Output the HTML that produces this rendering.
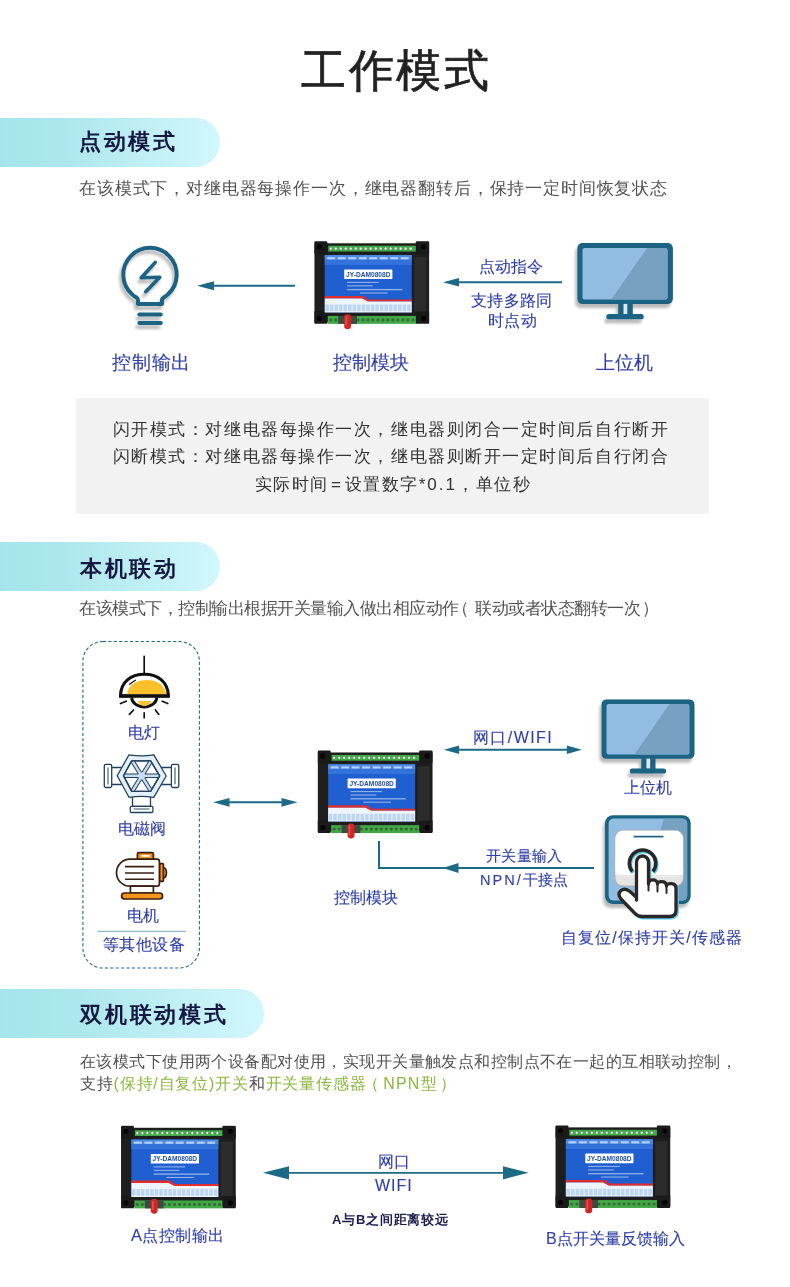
<!DOCTYPE html>
<html><head><meta charset="utf-8">
<style>
html,body{margin:0;padding:0;background:#fff;}
body{width:790px;height:1287px;position:relative;overflow:hidden;font-family:"Liberation Sans",sans-serif;}
.t{position:absolute;white-space:nowrap;line-height:1;will-change:transform;}
.pill{position:absolute;left:0;height:49px;border-radius:0 25px 25px 0;background:linear-gradient(90deg,#a4e5eb 0%,#afe8ee 35%,#d1f7fc 100%);}
.h2{font-size:24px;font-weight:700;color:#17183f;}
.para{font-size:16px;color:#525252;}
.lbl{color:#303ea8;-webkit-text-stroke:.12px #303ea8;}
.gray{position:absolute;background:#f2f2f2;}
svg{position:absolute;overflow:visible;}
</style></head><body>

<svg width="0" height="0" style="position:absolute">
<defs>
<symbol id="dev" viewBox="0 0 117 90">
  <rect x="1" y="2.5" width="116" height="80" fill="#1e1e1e"/>
  <rect x="1" y="0.5" width="13" height="13" rx="1" fill="#1a1a1a"/>
  <rect x="103.5" y="0.5" width="13.5" height="13" rx="1" fill="#1a1a1a"/>
  <rect x="1" y="71" width="13" height="13" rx="1" fill="#1a1a1a"/>
  <rect x="103.5" y="71" width="13.5" height="13" rx="1" fill="#1a1a1a"/>
  <circle cx="6" cy="6" r="2.6" fill="#050505"/>
  <circle cx="111.5" cy="6" r="2.6" fill="#050505"/>
  <circle cx="6" cy="78.5" r="2.6" fill="#050505"/>
  <circle cx="111.5" cy="78.5" r="2.6" fill="#050505"/>
  <rect x="15" y="5" width="88.5" height="5.8" fill="#45ad4b"/>
  <circle cx="17.50" cy="7.9" r="1.55" fill="#e8f3e8" stroke="#2f7d33" stroke-width=".5"/><circle cx="22.55" cy="7.9" r="1.55" fill="#e8f3e8" stroke="#2f7d33" stroke-width=".5"/><circle cx="27.60" cy="7.9" r="1.55" fill="#e8f3e8" stroke="#2f7d33" stroke-width=".5"/><circle cx="32.65" cy="7.9" r="1.55" fill="#e8f3e8" stroke="#2f7d33" stroke-width=".5"/><circle cx="37.70" cy="7.9" r="1.55" fill="#e8f3e8" stroke="#2f7d33" stroke-width=".5"/><circle cx="42.75" cy="7.9" r="1.55" fill="#e8f3e8" stroke="#2f7d33" stroke-width=".5"/><circle cx="47.80" cy="7.9" r="1.55" fill="#e8f3e8" stroke="#2f7d33" stroke-width=".5"/><circle cx="52.85" cy="7.9" r="1.55" fill="#e8f3e8" stroke="#2f7d33" stroke-width=".5"/><circle cx="57.90" cy="7.9" r="1.55" fill="#e8f3e8" stroke="#2f7d33" stroke-width=".5"/><circle cx="62.95" cy="7.9" r="1.55" fill="#e8f3e8" stroke="#2f7d33" stroke-width=".5"/><circle cx="68.00" cy="7.9" r="1.55" fill="#e8f3e8" stroke="#2f7d33" stroke-width=".5"/><circle cx="73.05" cy="7.9" r="1.55" fill="#e8f3e8" stroke="#2f7d33" stroke-width=".5"/><circle cx="78.10" cy="7.9" r="1.55" fill="#e8f3e8" stroke="#2f7d33" stroke-width=".5"/><circle cx="83.15" cy="7.9" r="1.55" fill="#e8f3e8" stroke="#2f7d33" stroke-width=".5"/><circle cx="88.20" cy="7.9" r="1.55" fill="#e8f3e8" stroke="#2f7d33" stroke-width=".5"/><circle cx="93.25" cy="7.9" r="1.55" fill="#e8f3e8" stroke="#2f7d33" stroke-width=".5"/><circle cx="98.30" cy="7.9" r="1.55" fill="#e8f3e8" stroke="#2f7d33" stroke-width=".5"/>
  <rect x="101.8" y="16.5" width="12.2" height="55" fill="#2c2c2c"/>
  <rect x="11.4" y="14.4" width="88" height="58" fill="#1f5fd0"/>
  <rect x="11.4" y="14.4" width="88" height="5" fill="#4b8ae2"/>
  <rect x="11.4" y="19.4" width="88" height="5" fill="#3372da"/>
  <rect x="14.00" y="16.5" width="8" height="2.2" fill="#cfe0fa" opacity=".8"/><rect x="24.60" y="16.5" width="8" height="2.2" fill="#cfe0fa" opacity=".8"/><rect x="35.20" y="16.5" width="8" height="2.2" fill="#cfe0fa" opacity=".8"/><rect x="45.80" y="16.5" width="8" height="2.2" fill="#cfe0fa" opacity=".8"/><rect x="56.40" y="16.5" width="8" height="2.2" fill="#cfe0fa" opacity=".8"/><rect x="67.00" y="16.5" width="8" height="2.2" fill="#cfe0fa" opacity=".8"/><rect x="77.60" y="16.5" width="8" height="2.2" fill="#cfe0fa" opacity=".8"/><rect x="88.20" y="16.5" width="8" height="2.2" fill="#cfe0fa" opacity=".8"/>
  <rect x="31.1" y="28.9" width="48.7" height="9.8" rx=".6" fill="#fff"/>
  <text x="55.4" y="36.6" font-size="8.2" font-weight="700" fill="#1f4fb0" text-anchor="middle" font-family="Liberation Sans" textLength="45" lengthAdjust="spacingAndGlyphs">JY-DAM0808D</text>
  <rect x="34" y="41.5" width="32" height="1.1" fill="#b8d0f5" opacity=".75"/>
  <rect x="34" y="45" width="26" height="1.1" fill="#b8d0f5" opacity=".75"/>
  <rect x="34" y="48.7" width="56" height="1.3" fill="#b8d0f5" opacity=".75"/>
  <rect x="47" y="52.2" width="28" height="1.1" fill="#b8d0f5" opacity=".75"/>
  <polygon points="11.4,55.8 50,55.8 56,59.3 99.4,59.3 99.4,61.5 55,61.5 49,58.3 11.4,58.3" fill="#e12d2d"/>
  <polygon points="11.4,58.3 49,58.3 55,61.5 99.4,61.5 99.4,72.4 11.4,72.4" fill="#eef4fc"/>
  <rect x="12.00" y="64.5" width="3.6" height="6.8" rx=".8" fill="#bcd6f3"/><rect x="16.60" y="64.5" width="3.6" height="6.8" rx=".8" fill="#bcd6f3"/><rect x="21.20" y="64.5" width="3.6" height="6.8" rx=".8" fill="#bcd6f3"/><rect x="25.80" y="64.5" width="3.6" height="6.8" rx=".8" fill="#bcd6f3"/><rect x="30.40" y="64.5" width="3.6" height="6.8" rx=".8" fill="#bcd6f3"/><rect x="35.00" y="64.5" width="3.6" height="6.8" rx=".8" fill="#bcd6f3"/><rect x="39.60" y="64.5" width="3.6" height="6.8" rx=".8" fill="#bcd6f3"/><rect x="44.20" y="64.5" width="3.6" height="6.8" rx=".8" fill="#bcd6f3"/><rect x="48.80" y="64.5" width="3.6" height="6.8" rx=".8" fill="#bcd6f3"/><rect x="53.40" y="64.5" width="3.6" height="6.8" rx=".8" fill="#bcd6f3"/><rect x="58.00" y="64.5" width="3.6" height="6.8" rx=".8" fill="#bcd6f3"/><rect x="62.60" y="64.5" width="3.6" height="6.8" rx=".8" fill="#bcd6f3"/><rect x="67.20" y="64.5" width="3.6" height="6.8" rx=".8" fill="#bcd6f3"/><rect x="71.80" y="64.5" width="3.6" height="6.8" rx=".8" fill="#bcd6f3"/><rect x="76.40" y="64.5" width="3.6" height="6.8" rx=".8" fill="#bcd6f3"/><rect x="81.00" y="64.5" width="3.6" height="6.8" rx=".8" fill="#bcd6f3"/><rect x="85.60" y="64.5" width="3.6" height="6.8" rx=".8" fill="#bcd6f3"/><rect x="90.20" y="64.5" width="3.6" height="6.8" rx=".8" fill="#bcd6f3"/><rect x="94.80" y="64.5" width="3.6" height="6.8" rx=".8" fill="#bcd6f3"/>
  <rect x="14.5" y="76" width="89" height="8" fill="#43a947"/>
  <rect x="25" y="76" width="19" height="8" fill="#3d4a3f"/>
  <circle cx="45.00" cy="80" r="1.6" fill="#2d5a2f" opacity=".75"/><circle cx="50.05" cy="80" r="1.6" fill="#2d5a2f" opacity=".75"/><circle cx="55.10" cy="80" r="1.6" fill="#2d5a2f" opacity=".75"/><circle cx="60.15" cy="80" r="1.6" fill="#2d5a2f" opacity=".75"/><circle cx="65.20" cy="80" r="1.6" fill="#2d5a2f" opacity=".75"/><circle cx="70.25" cy="80" r="1.6" fill="#2d5a2f" opacity=".75"/><circle cx="75.30" cy="80" r="1.6" fill="#2d5a2f" opacity=".75"/><circle cx="80.35" cy="80" r="1.6" fill="#2d5a2f" opacity=".75"/><circle cx="85.40" cy="80" r="1.6" fill="#2d5a2f" opacity=".75"/><circle cx="90.45" cy="80" r="1.6" fill="#2d5a2f" opacity=".75"/><circle cx="95.50" cy="80" r="1.6" fill="#2d5a2f" opacity=".75"/><circle cx="100.55" cy="80" r="1.6" fill="#2d5a2f" opacity=".75"/><circle cx="17.50" cy="80" r="1.6" fill="#2d5a2f" opacity=".75"/><circle cx="22.55" cy="80" r="1.6" fill="#2d5a2f" opacity=".75"/>
  <rect x="31.1" y="74.4" width="6.9" height="15" rx="3.2" fill="#d42525"/>
  <rect x="32.3" y="76" width="1.6" height="10" rx=".8" fill="#f06060" opacity=".7"/>
</symbol>
<symbol id="mon" viewBox="0 0 96 77">
  <rect x="0" y="0" width="95.7" height="61.2" rx="5.5" fill="#1b6282"/>
  <rect x="5.3" y="5" width="85" height="51.7" rx="2" fill="#90bde1"/>
  <polygon points="69.8,5 88.3,5 90.3,7 90.3,54.7 88.3,56.7 34.1,56.7" fill="#77a1c3"/>
  <rect x="41" y="60" width="14.6" height="12" fill="#1b6282"/>
  <rect x="46.3" y="61" width="3.8" height="10.5" fill="#dfe7ed"/>
  <rect x="29.1" y="71.1" width="37.4" height="5.3" rx="2.65" fill="#1b6282"/>
</symbol>
<filter id="sh" x="-20%" y="-20%" width="140%" height="150%">
  <feGaussianBlur in="SourceAlpha" stdDeviation="1.6"/>
  <feOffset dx="-2" dy="4" result="o"/>
  <feComponentTransfer><feFuncA type="linear" slope=".28"/></feComponentTransfer>
  <feMerge><feMergeNode/><feMergeNode in="SourceGraphic"/></feMerge>
</filter>
</defs>
</svg>

<!-- Title -->
<div id="title" class="t" style="left:301px;top:48px;font-size:45px;color:#222;-webkit-text-stroke:0.7px #222;letter-spacing:2.5px;">工作模式</div>

<!-- Section 1 -->
<div class="pill" style="top:118px;width:220px;"></div>
<div id="h1" class="t h2" style="left:79px;top:131px;font-size:22px;letter-spacing:2.6px;">点动模式</div>
<div id="p1" class="t para" style="left:79px;top:180.2px;letter-spacing:0.85px;font-size:17px;">在该模式下，对继电器每操作一次，继电器翻转后，保持一定时间恢复状态</div>

<!-- bulb -->
<svg style="left:0;top:0" width="790" height="400">
  <g fill="none" stroke="#1b6282" stroke-width="4" stroke-linecap="round" stroke-linejoin="round" filter="url(#sh)">
    <path d="M138,304 V300 C138,297.5 134.5,297 132.3,294.5 A26.7,26.7 0 1 1 167.7,294.5 C165.5,297 162,297.5 162,300 V304 Z"/>
    <path d="M139.3,314.5 H160.8 M139.3,323 H160.8"/>
    <path d="M155.3,262.4 L141.2,277.8 L159.8,277.3 L145.7,291.7" stroke-width="3.6"/>
  </g>
  <!-- arrow 1 -->
  <line x1="210" y1="285.7" x2="295" y2="285.7" stroke="#1d6a86" stroke-width="2.1"/>
  <polygon points="197,285.7 214,281.2 214,290.2" fill="#1d6a86"/>
  <!-- arrow 2 -->
  <line x1="455" y1="282.2" x2="562" y2="282.2" stroke="#1d6a86" stroke-width="2"/>
  <polygon points="443,282.2 459,278 459,286.4" fill="#1d6a86"/>
  <!-- monitor 1 -->
  <use href="#mon" x="577.2" y="242.9" width="96" height="77" filter="url(#sh)"/>
  <use href="#dev" x="312.8" y="240.8" width="117" height="89"/>
</svg>
<div id="l1" class="t lbl" style="left:111.5px;top:353px;font-size:19.3px;letter-spacing:0.8px;">控制输出</div>
<div id="l2" class="t lbl" style="left:333px;top:353px;font-size:19px;">控制模块</div>
<div id="l3" class="t lbl" style="left:595.5px;top:353px;font-size:19px;">上位机</div>
<div id="l4" class="t lbl" style="left:478.5px;top:259px;font-size:16px;">点动指令</div>
<div id="l5" class="t lbl" style="left:470.5px;top:292.5px;font-size:16px;letter-spacing:0.3px;">支持多路同</div>
<div id="l6" class="t lbl" style="left:487.5px;top:312.5px;font-size:16px;letter-spacing:0.3px;">时点动</div>

<div class="gray" style="left:76px;top:398px;width:633px;height:116px;"></div>
<div id="g1" class="t" style="left:0;width:782px;text-align:center;top:421.3px;font-size:17px;color:#333;letter-spacing:1.55px;">闪开模式：对继电器每操作一次，继电器则闭合一定时间后自行断开</div>
<div id="g2" class="t" style="left:0;width:782px;text-align:center;top:448.3px;font-size:17px;color:#333;letter-spacing:1.55px;">闪断模式：对继电器每操作一次，继电器则断开一定时间后自行闭合</div>
<div id="g3" class="t" style="left:1.5px;width:782px;text-align:center;top:476.3px;font-size:17px;color:#333;letter-spacing:1.55px;">实际时间<span style="margin:0 2px 0 2px">=</span>设置数字<span style="letter-spacing:2px">*0.1</span>，单位秒</div>

<!-- Section 2 -->
<div class="pill" style="top:542px;width:220px;"></div>
<div id="h2" class="t h2" style="left:80px;top:558px;font-size:22px;letter-spacing:2.6px;">本机联动</div>
<div id="p2" class="t para" style="left:79px;top:600.2px;letter-spacing:-0.5px;font-size:17px;">在该模式下，控制输出根据开关量输入做出相应动作<span style="position:relative;left:-6.8px">（</span>联动或者状态翻转一次<span style="position:relative;left:1.9px">）</span></div>


<!-- Section 2 diagram -->
<svg style="left:0;top:0" width="790" height="1287">
  <rect x="82.9" y="641.5" width="116.5" height="326.5" rx="20" fill="none" stroke="#1f6a8a" stroke-width="1.1" stroke-dasharray="3.2 2.2"/>
  <!-- lamp -->
  <g>
    <line x1="144.2" y1="655.7" x2="144.2" y2="673.5" stroke="#111" stroke-width="1.7"/>
    <path d="M120.5,696 C120.5,682 131,674.3 144.4,674.3 C157.8,674.3 168.3,682 168.3,696 Z" fill="#fff" stroke="#111" stroke-width="3.1" stroke-linejoin="round"/>
    <path d="M127,694.5 C128,685 136,680 147,680 C158,680 165,686 166.3,694.5 Z" fill="#fcc12a"/>
    <path d="M129.6,684.2 L135.3,680.2" stroke="#111" stroke-width="1.3" stroke-linecap="round"/>
    <path d="M131.7,697.5 A12.5,9.5 0 0 0 156.7,697.5" fill="#fff" stroke="#111" stroke-width="2.9"/>
    <path d="M137.5,701 H151.5 Q149,706 144.5,706 Q140,706 137.5,701 Z" fill="#fcc12a"/>
    <line x1="119" y1="696" x2="169.8" y2="696" stroke="#111" stroke-width="3.6" stroke-linecap="butt"/>
    <g stroke="#111" stroke-width="1.7" stroke-linecap="round">
      <line x1="120.5" y1="703.5" x2="126.2" y2="701.2"/>
      <line x1="129.4" y1="714.4" x2="133.5" y2="710"/>
      <line x1="144.2" y1="712.8" x2="144.2" y2="717.7"/>
      <line x1="155.4" y1="710" x2="158.8" y2="714.4"/>
      <line x1="162.2" y1="701.2" x2="167.8" y2="703.5"/>
    </g>
  </g>
  <!-- valve -->
  <g stroke="#23405f" stroke-width="1.3" stroke-linejoin="round">
    <rect x="108" y="767.5" width="67" height="17" fill="#fff"/>
    <rect x="104.3" y="764.3" width="7.4" height="23.2" rx="1.5" fill="#fff"/>
    <rect x="171.4" y="764.3" width="7.4" height="23.2" rx="1.5" fill="#fff"/>
    <path d="M108,767.5 V784.4 M175,767.5 V784.4" stroke-width="1"/>
    <rect x="132.5" y="796" width="18" height="10.5" fill="#fff"/>
    <rect x="130.3" y="806.3" width="22.6" height="6.2" rx="1.2" fill="#fff"/>
    <path d="M133.5,809 H149.5" stroke-width=".9"/>
    <path d="M117.2,775.8 L129,754.8 Q141.4,757 153.8,754.8 L166.2,776 L153.8,797.3 Q141.4,795.5 129,797.3 Z" fill="#e3f0fa"/>
    <path d="M123.5,775.8 L131.7,760.8 L150.6,760.8 L159.7,775.8 L150.6,791.4 L131.7,791.4 Z" fill="#fff"/>
    <path d="M132.8,761.5 L150.6,790.5 M150.6,761.5 L132.8,790.5 M124.5,775.8 H158.7" stroke="#23405f" stroke-width="4.4" stroke-linecap="butt"/>
    <path d="M132.8,761.5 L150.6,790.5 M150.6,761.5 L132.8,790.5 M124.5,775.8 H158.7" stroke="#c7ddf1" stroke-width="2.4"/>
    <circle cx="141.6" cy="775.8" r="3.6" fill="#c7ddf1" stroke="none"/>
    <path d="M123.5,775.8 L131.7,760.8 L150.6,760.8 L159.7,775.8 L150.6,791.4 L131.7,791.4 Z" fill="none"/>
  </g>
  <!-- motor -->
  <g stroke="#3b1f12" stroke-width="1.7" stroke-linejoin="round">
    <rect x="137.4" y="852.6" width="16" height="7" rx="1.3" fill="#f7941d"/>
    <rect x="141.3" y="855" width="8.3" height="1.8" fill="#fff" stroke="none"/>
    <path d="M163.5,867.5 A3.4,5.3 0 0 1 163.5,878" fill="#f7941d"/>
    <rect x="159.5" y="863.7" width="3.9" height="17.7" rx=".8" fill="#f7941d"/>
    <path d="M130,859.2 H157 Q159.4,859.2 159.4,861.6 V883.8 Q159.4,886.2 157,886.2 H130 A13.5,13.5 0 0 1 130,859.2 Z" fill="#fff"/>
    <path d="M125,866.6 H154 M125,873 H154 M125,879.2 H154" stroke-width="1.6"/>
    <rect x="130.4" y="886.2" width="23" height="7" fill="#fff"/>
    <rect x="121.6" y="893" width="41" height="6" rx="3" fill="#f7941d"/>
  </g>
  <line x1="97.5" y1="931.3" x2="186" y2="931.3" stroke="#8fb9c9" stroke-width="1.3"/>
  <!-- double arrow left -->
  <line x1="222" y1="802.3" x2="288" y2="802.3" stroke="#1d6a86" stroke-width="2.1"/>
  <polygon points="213.3,802.3 229.5,797.9 229.5,806.7" fill="#1d6a86"/>
  <polygon points="297.5,802.3 281.5,797.9 281.5,806.7" fill="#1d6a86"/>
  <use href="#dev" x="316.2" y="750" width="117" height="89"/>
  <!-- top double arrow -->
  <line x1="452" y1="749.8" x2="574" y2="749.8" stroke="#1d6a86" stroke-width="2"/>
  <polygon points="444,749.8 459,745.6 459,754" fill="#1d6a86"/>
  <polygon points="581.8,749.8 566.8,745.6 566.8,754" fill="#1d6a86"/>
  <!-- L line -->
  <path d="M379,841 V868 H594" fill="none" stroke="#1d6a86" stroke-width="2"/>
  <polygon points="442.8,868 458.5,863 458.5,873" fill="#1d6a86"/>
  <!-- monitor 2 -->
  <use href="#mon" x="601.3" y="699.2" width="93.6" height="75" filter="url(#sh)"/>
  <!-- switch -->
  <g filter="url(#sh)">
    <rect x="605" y="815.2" width="85.7" height="88.8" rx="8" fill="#1b6282"/>
    <rect x="608.6" y="818.6" width="78.6" height="82" rx="5" fill="#90bde1"/>
    <path d="M664,818.6 H682.2 Q687.2,818.6 687.2,823.6 V895.6 Q687.2,900.6 682.2,900.6 H640 Z" fill="#77a1c3"/>
  </g>
  <rect x="615" y="830.3" width="68.4" height="55.7" rx="8" fill="#e4e4e4" stroke="#b8aca8" stroke-width=".8"/>
  <rect x="615.4" y="830.7" width="67.6" height="44" rx="8" fill="#fff"/>
  <rect x="615.4" y="860" width="67.6" height="14.7" fill="#fff"/>
  <path d="M615.4,870 Q616,876.5 624,876.5 H674.4 Q682.4,876.5 683,870" fill="none" stroke="#eee" stroke-width="1"/>
  <line x1="633.5" y1="836.6" x2="663.5" y2="836.6" stroke="#1b6282" stroke-width="1.7"/>
  <path d="M632.3,871.5 A13.2,13.2 0 1 1 652.8,871.5" fill="none" stroke="#5cc9ea" stroke-width="3.7" transform="translate(1,1.3)"/>
  <path d="M632.3,871.5 A13.2,13.2 0 1 1 652.8,871.5" fill="none" stroke="#2b2727" stroke-width="3.6"/>
  <path d="M636.5,900 L636.5,862 A6,6 0 0 1 648.5,862 L648.5,884 C648.5,878.5 657.5,878.5 657.5,884 C657.5,880.5 666.5,880.5 666.5,886 C666.5,882.5 676,882.5 676,888 L676,910 Q676,916.5 669.5,916.5 L642,916.5 Q638,916.5 635,913.5 L621,899 Q617,894 621,890.5 Q625,887.5 630,891.5 L636.5,897.5 Z" fill="#5cc9ea" stroke="#5cc9ea" stroke-width="3.2" transform="translate(1.3,1.3)"/>
  <path d="M636.5,900 L636.5,862 A6,6 0 0 1 648.5,862 L648.5,884 C648.5,878.5 657.5,878.5 657.5,884 C657.5,880.5 666.5,880.5 666.5,886 C666.5,882.5 676,882.5 676,888 L676,910 Q676,916.5 669.5,916.5 L642,916.5 Q638,916.5 635,913.5 L621,899 Q617,894 621,890.5 Q625,887.5 630,891.5 L636.5,897.5 Z" fill="#fff" stroke="#2b2727" stroke-width="3.3" stroke-linejoin="round"/>
  <path d="M648.5,884 V890.5 M657.5,885.5 V891.5 M666.5,887.5 V893" stroke="#2b2727" stroke-width="2" stroke-linecap="round"/>
</svg>
<div id="s1" class="t lbl" style="left:128px;top:725px;font-size:15.5px;">电灯</div>
<div id="s2" class="t lbl" style="left:118px;top:821px;font-size:15.5px;">电磁阀</div>
<div id="s3" class="t lbl" style="left:127px;top:908px;font-size:15.5px;">电机</div>
<div id="s4" class="t lbl" style="left:102.5px;top:936.5px;font-size:16px;letter-spacing:0.4px;">等其他设备</div>
<div id="s5" class="t lbl" style="left:473px;top:730px;font-size:16px;letter-spacing:1.4px;">网口/WIFI</div>
<div id="s6" class="t lbl" style="left:624px;top:780px;font-size:16px;">上位机</div>
<div id="s7" class="t lbl" style="left:486px;top:848px;font-size:15px;letter-spacing:0.35px;">开关量输入</div>
<div id="s8" class="t lbl" style="left:480px;top:872.5px;font-size:14.6px;letter-spacing:0px;"><span style="letter-spacing:2px">NPN/</span>干接点</div>
<div id="s9" class="t lbl" style="left:334px;top:889.5px;font-size:16px;">控制模块</div>
<div id="s10" class="t lbl" style="left:561px;top:930px;font-size:16px;letter-spacing:1.1px;">自复位/保持开关/传感器</div>

<!-- Section 3 -->
<div class="pill" style="top:989px;width:264px;"></div>
<div id="h3" class="t h2" style="left:80px;top:1004px;letter-spacing:2.8px;font-size:22px;">双机联动模式</div>
<div id="p3" class="t para" style="left:80px;top:1054px;letter-spacing:0.43px;">在该模式下使用两个设备配对使用，实现开关量触发点和控制点不在一起的互相联动控制，</div>
<div id="p4" class="t para" style="left:80px;top:1076px;letter-spacing:0.8px;">支持<span style="color:#8bb73b">(保持/自复位)开关</span>和<span style="color:#8bb73b">开关量传感器<span style="position:relative;left:-3.5px">（</span><span style="letter-spacing:1.2px">NPN</span>型<span style="position:relative;left:3px">）</span></span></div>

<svg style="left:0;top:0" width="790" height="1287">
  <use href="#dev" x="119.4" y="1125.3" width="117" height="89"/>
  <use href="#dev" x="553.9" y="1124.9" width="117" height="89"/>
  <line x1="280" y1="1172.8" x2="512" y2="1172.8" stroke="#1d6a86" stroke-width="1.8"/>
  <polygon points="262.9,1172.8 289,1166.2 289,1179.4" fill="#1d6a86"/>
  <polygon points="528.6,1172.8 503,1166.2 503,1179.4" fill="#1d6a86"/>
</svg>
<div id="b1" class="t lbl" style="left:131px;top:1227px;font-size:16.4px;letter-spacing:0.4px;">A点控制输出</div>
<div id="b2" class="t lbl" style="left:378px;top:1154px;font-size:15.5px;">网口</div>
<div id="b3" class="t lbl" style="left:375px;top:1178px;font-size:16px;letter-spacing:1.0px;">WIFI</div>
<div id="b4" class="t" style="left:332px;top:1213px;font-size:13px;font-weight:700;color:#1c1d4e;letter-spacing:0.75px;">A与B之间距离较远</div>
<div id="b5" class="t lbl" style="left:546px;top:1231px;font-size:16px;">B点开关量反馈输入</div>

</body></html>
